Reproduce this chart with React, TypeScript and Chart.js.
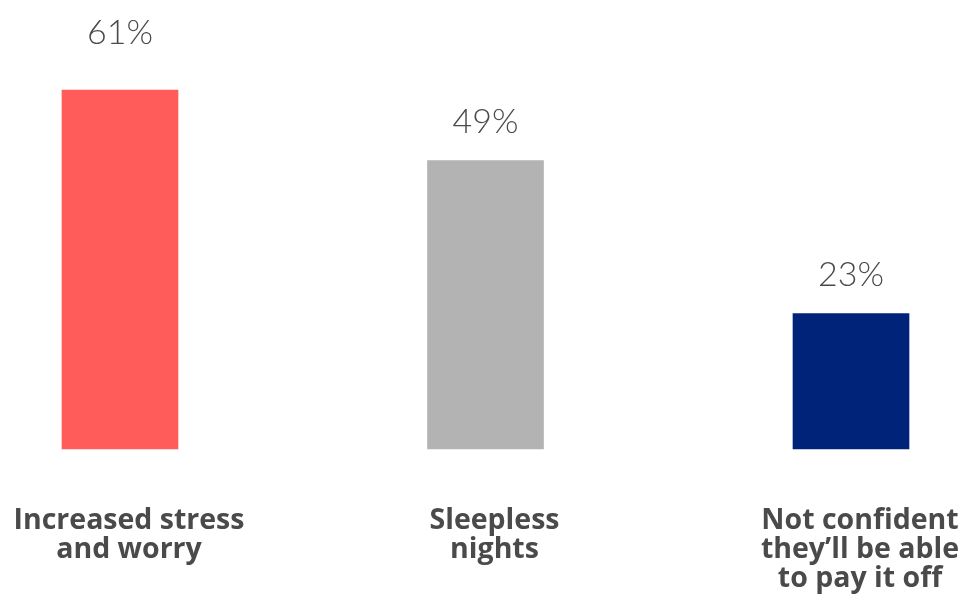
import React, { useEffect, useRef } from "react";
import { Chart, registerables } from "chart.js";

Chart.register(...registerables);

const categories: string[][] = [
  ["Increased stress", "and worry"],
  ["Sleepless", "nights"],
  ["Not confident", "they\u2019ll be able", "to pay it off"],
];
const values = [61, 49, 23];
const barColors = ["#FF5C5A", "#B3B3B3", "#00237A"];
const textColor = "#4A4A4A";

const labelPlugin = {
  id: "customLabels",
  afterDatasetsDraw(chart: any) {
    const ctx = chart.ctx;
    const meta = chart.getDatasetMeta(0);
    const xScale = chart.scales.x;
    const area = chart.chartArea;
    const gaps = [46, 28, 28];
    ctx.save();
    ctx.fillStyle = textColor;
    ctx.textAlign = "center";
    ctx.textBaseline = "alphabetic";
    meta.data.forEach((bar: any, i: number) => {
      ctx.font = "300 34px Lato";
      ctx.fillText(values[i] + "%", bar.x, bar.y - gaps[i]);
      const cx = xScale.getPixelForValue(i) + 9;
      ctx.font = "bold 28.5px 'Open Sans'";
      categories[i].forEach((line, j) => {
        ctx.fillText(line, cx, area.bottom + 80 + j * 29);
      });
    });
    ctx.restore();
  },
};

export default function App() {
  const ref = useRef<HTMLCanvasElement>(null);
  useEffect(() => {
    if (!ref.current) return;
    const chart = new Chart(ref.current, {
      type: "bar",
      data: {
        labels: categories.map((c) => c.join(" ")),
        datasets: [
          {
            data: values,
            backgroundColor: barColors,
            barThickness: 116,
            clip: false as any,
          },
        ],
      },
      options: {
        responsive: false,
        animation: false,
        layout: { padding: { left: 120, right: 120, top: 37, bottom: 145 } },
        plugins: { legend: { display: false }, tooltip: { enabled: false } },
        scales: {
          x: { display: false, offset: false, grid: { display: false } },
          y: { display: false, min: 0, max: 70 },
        },
      },
      plugins: [labelPlugin],
    });
    return () => chart.destroy();
  }, []);
  return (
    <div style={{ position: "fixed", left: 0, top: 0, width: 971, height: 594, background: "#fff" }}>
      <canvas ref={ref} width={971} height={594} />
    </div>
  );
}
